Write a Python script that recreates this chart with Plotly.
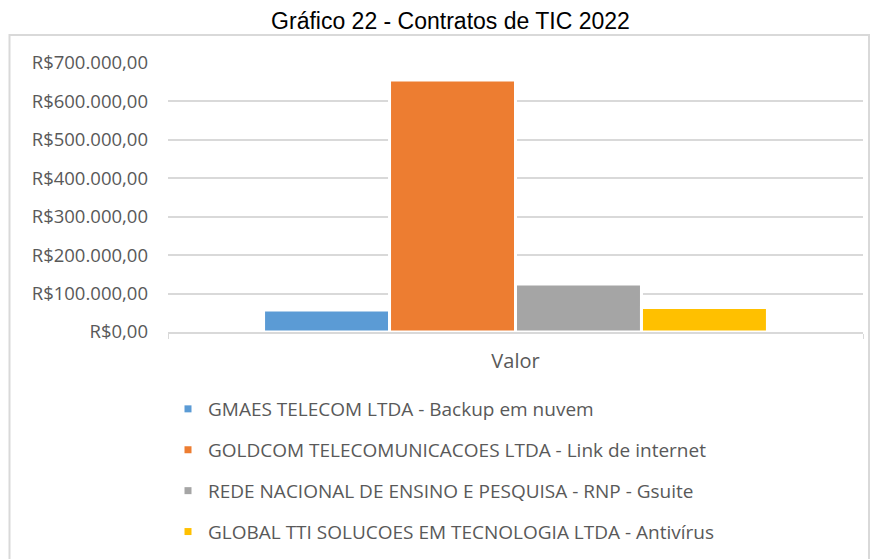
"""Gráfico 22 - Contratos de TIC 2022 (bar chart, one category, four contracts)."""

import plotly.graph_objects as go

# ---- data -----------------------------------------------------------------
categories = ["Valor"]
contracts = [
    "GMAES TELECOM LTDA - Backup em nuvem",
    "GOLDCOM TELECOMUNICACOES LTDA - Link de internet",
    "REDE NACIONAL DE ENSINO E PESQUISA - RNP - Gsuite",
    "GLOBAL TTI SOLUCOES EM TECNOLOGIA LTDA - Antivírus",
]
values = [57000, 656000, 124600, 63750]
colors = ["#5B9BD5", "#ED7D31", "#A5A5A5", "#FFC000"]

W, H = 870, 559
M_L, M_R, M_T, M_B = 168, 7, 63, 227
TEXT = "#595959"
GRID = "#D9D9D9"
FONT = "Open Sans"

fig = go.Figure()
for name, val, col in zip(contracts, values, colors):
    fig.add_trace(
        go.Bar(
            x=categories,
            y=[val],
            name=name,
            marker={"color": col, "line": {"color": "white", "width": 3}},
            showlegend=False,
            legendgroup=name,
        )
    )
    # small square legend swatch like the original
    fig.add_trace(
        go.Scatter(
            x=[None],
            y=[None],
            mode="markers",
            name=name,
            marker={"symbol": "square", "size": 7, "color": col},
            legendgroup=name,
            hoverinfo="skip",
        )
    )


def px_x(px):
    return (px - M_L) / (W - M_L - M_R)


def px_y(py):
    return (H - M_B - py) / (H - M_T - M_B)


fig.add_shape(
    type="rect",
    xref="paper",
    yref="paper",
    x0=px_x(9.5),
    x1=px_x(869),
    y0=px_y(600),
    y1=px_y(35),
    line={"color": GRID, "width": 2},
    fillcolor="rgba(0,0,0,0)",
    layer="below",
)

fig.update_layout(
    width=W,
    height=H,
    margin={"l": M_L, "r": M_R, "t": M_T, "b": M_B, "autoexpand": False},
    paper_bgcolor="white",
    plot_bgcolor="white",
    separators=",.",
    barmode="group",
    bargap=0.275,
    bargroupgap=0,
    title={
        "text": "Gráfico 22 - Contratos de TIC 2022",
        "x": 450.5 / W,
        "xanchor": "center",
        "y": 1 - 21 / H,
        "yanchor": "middle",
        "font": {"family": "Liberation Sans", "size": 23, "color": "black"},
    },
    font={"family": FONT, "color": TEXT},
    legend={
        "orientation": "v",
        "x": px_x(168),
        "xanchor": "left",
        "y": px_y(390),
        "yanchor": "top",
        "font": {"family": FONT, "size": 19, "color": TEXT},
        "tracegroupgap": 13.2,
        "bgcolor": "rgba(0,0,0,0)",
    },
    xaxis={
        "type": "category",
        "range": [-0.5, 0.5],
        "showline": True,
        "linecolor": GRID,
        "linewidth": 1.5,
        "ticks": "outside",
        "tickson": "boundaries",
        "ticklen": 5,
        "tickcolor": GRID,
        "tickfont": {"family": FONT, "size": 20, "color": TEXT},
        "ticklabelstandoff": 10,
        "showgrid": False,
    },
    yaxis={
        "range": [0, 700000],
        "dtick": 100000,
        "tickprefix": "R$",
        "tickformat": ",.2f",
        "showgrid": True,
        "gridcolor": GRID,
        "gridwidth": 1.5,
        "zeroline": False,
        "showline": False,
        "ticks": "",
        "tickfont": {"family": FONT, "size": 18.5, "color": TEXT},
        "ticklabelstandoff": 19,
    },
)

fig.write_html(
    "out.html",
    config={"displayModeBar": False},
    post_script="document.body.style.margin='0';",
)
